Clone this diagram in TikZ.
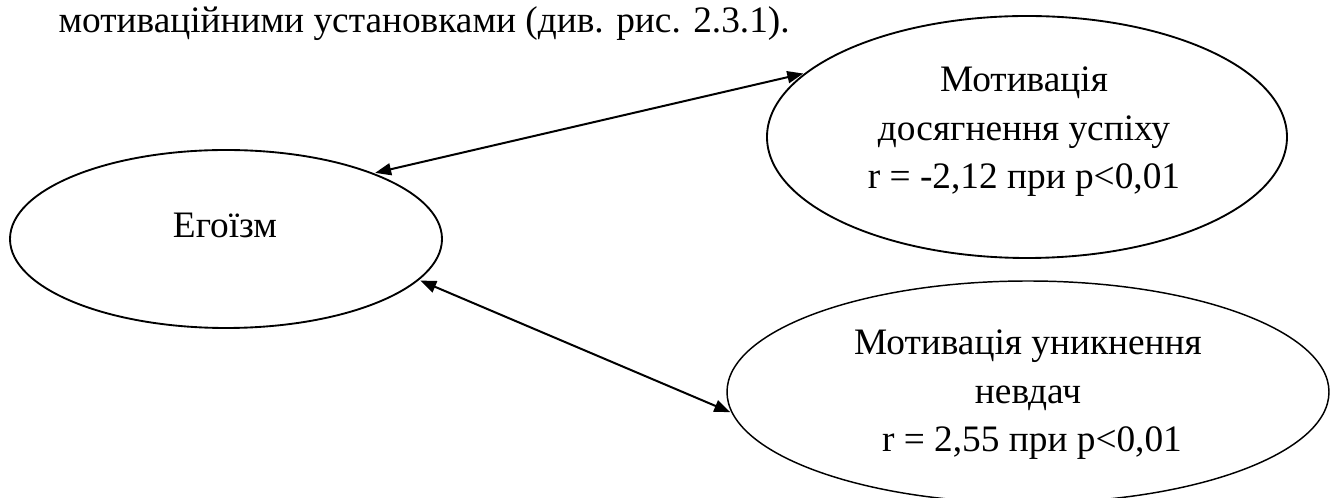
\documentclass[tikz,border=0pt]{standalone}
\usepackage{fontspec}
\setmainfont{Liberation Serif}
\usetikzlibrary{shapes.geometric,arrows.meta}
\begin{document}
\begin{tikzpicture}[x=0.375pt, y=-0.375pt,
  every node/.style={font=\fontsize{14pt}{18pt}\selectfont},
  oval/.style={draw, ellipse, line width=0.7pt, inner sep=0pt},
  txt/.style={inner sep=0pt, anchor=base},
  link/.style={line width=0.75pt, {Triangle[length=6pt,width=4.5pt]}-{Triangle[length=6pt,width=4.5pt]}, shorten <=0.5pt, shorten >=0.5pt}]
  \useasboundingbox (0,0) rectangle (1338,498);

  % opening sentence fragment
  \node[inner sep=0pt, anchor=base west] (intro) at (58,33)
    {мотиваційними установками (див. рис. 2.3.1).};

  % ovals
  \node[oval, minimum width=162pt, minimum height=66.75pt] (ego) at (226,239) {};
  \node[oval, minimum width=195pt, minimum height=90.75pt] (succ) at (1027,137) {};
  \node[oval, line width=0.55pt, minimum width=225.75pt, minimum height=83.25pt] (fail) at (1028,392) {};

  % labels
  \node[txt] (egot) at (225,238) {Егоїзм};
  \node[txt] (s1) at (1024,92) {Мотивація};
  \node[txt] (s2) at (1024,141) {досягнення успіху};
  \node[txt] (s3) at (1024,189) {r = -2,12 при p<0,01};
  \node[txt] (f1) at (1028,355) {Мотивація уникнення};
  \node[txt] (f2) at (1028,403.5) {невдач};
  \node[txt] (f3) at (1032,452) {r = 2,55 при p<0,01};

  % correlations
  \draw[link] (ego.24.6) -- (succ.164.1);
  \draw[link] (ego.-12.4) -- (fail.184.5);
\end{tikzpicture}
\end{document}
